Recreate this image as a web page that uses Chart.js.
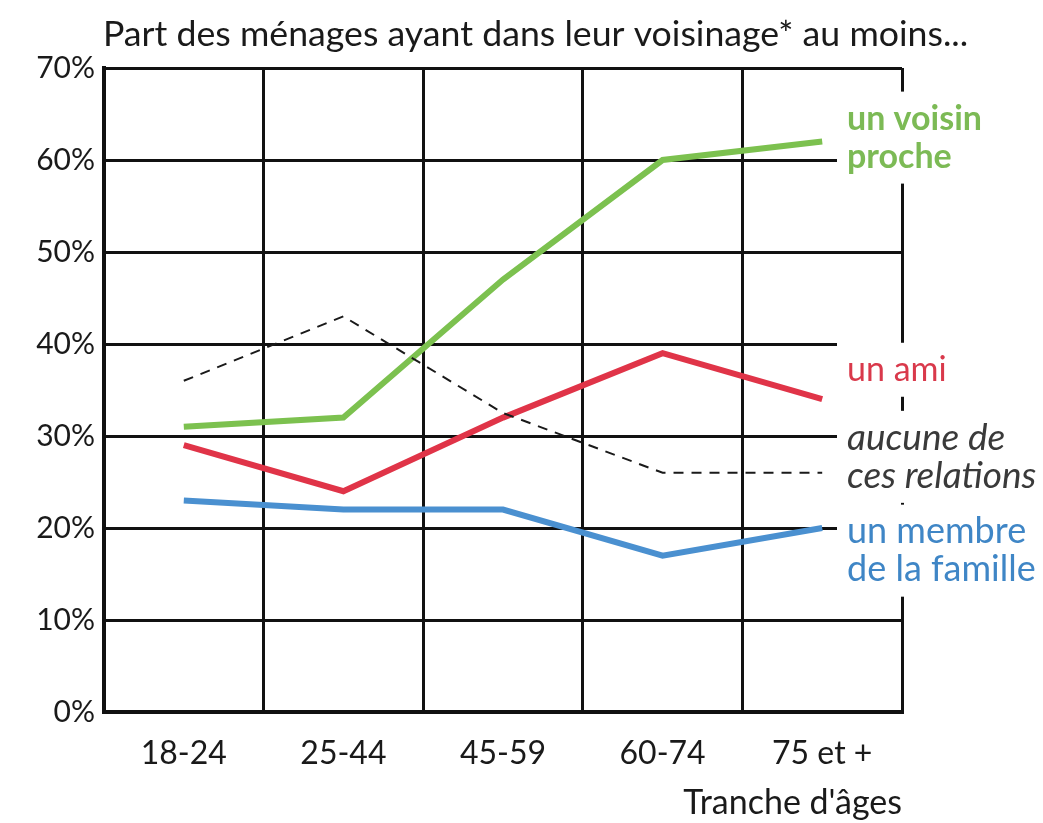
<!DOCTYPE html>
<html><head><meta charset="utf-8">
<script src="https://cdn.jsdelivr.net/npm/chart.js@4.4.1/dist/chart.umd.min.js"></script>
<style>html,body{margin:0;padding:0;background:#fff}#wrap{width:1043px;height:823px}</style>
</head><body><div id="wrap"><canvas id="c" width="1043" height="823"></canvas></div>
<script>
const categories = ['18-24', '25-44', '45-59', '60-74', '75 et +'];
const voisinProche = [31, 32, 47, 60, 62];
const ami = [29, 24, 32, 39, 34];
const aucune = [36, 43, 32.5, 26, 26];
const famille = [23, 22, 22, 17, 20];
const yTicks = [0, 10, 20, 30, 40, 50, 60, 70];
const titleText = "Part des ménages ayant dans leur voisinage* au moins...";
const xTitle = "Tranche d'âges";

const FONT = 'Lato, "Open Sans", sans-serif';

// end labels: text lines, value of first line, colour, style
const endLabels = [
  {lines: ['un voisin', 'proche'], at: 64.5, color: '#7cba55', weight: '700', style: 'normal', size: 34},
  {lines: ['un ami'], at: 37.2, color: '#d9394b', weight: '400', style: 'normal', size: 34},
  {lines: ['aucune de', 'ces relations'], at: 29.8, color: '#3a3a3a', weight: '400', style: 'italic', size: 37},
  {lines: ['un membre', 'de la famille'], at: 19.6, color: '#3f86c6', weight: '400', style: 'normal', size: 36}
];

const labelPlugin = {
  id: 'endLabels',
  afterDraw(chart) {
    const ctx = chart.ctx, ys = chart.scales.y, area = chart.chartArea;
    ctx.save();
    // title
    ctx.fillStyle = '#1a1a1a';
    ctx.font = '400 35.7px ' + FONT;
    ctx.textBaseline = 'middle';
    ctx.textAlign = 'left';
    ctx.fillText(titleText, 103, 34);
    const lh = 38;
    endLabels.forEach(l => {
      const y0 = ys.getPixelForValue(l.at);
      const top = y0 - lh / 2 - 8;
      const bottom = y0 + (l.lines.length - 1) * lh + lh / 2 + 8;
      ctx.fillStyle = '#ffffff';
      ctx.fillRect(area.right - 65, top, 1043 - (area.right - 65), bottom - top);
      ctx.fillStyle = l.color;
      ctx.font = l.style + ' ' + l.weight + ' ' + l.size + 'px ' + FONT;
      l.lines.forEach((t, i) => ctx.fillText(t, area.right - 55, y0 + i * lh));
    });
    ctx.restore();
  }
};

new Chart(document.getElementById('c'), {
  type: 'line',
  data: {
    labels: categories,
    datasets: [
      {label: 'aucune de ces relations', data: aucune, borderColor: '#1a1a1a', borderWidth: 2, borderDash: [10, 8], pointRadius: 0, tension: 0},
      {label: 'un membre de la famille', data: famille, borderColor: '#4a90d0', borderWidth: 6, pointRadius: 0, tension: 0},
      {label: 'un ami', data: ami, borderColor: '#e03448', borderWidth: 6, pointRadius: 0, tension: 0},
      {label: 'un voisin proche', data: voisinProche, borderColor: '#7cc14f', borderWidth: 6, pointRadius: 0, tension: 0}
    ]
  },
  options: {
    responsive: false,
    animation: false,
    layout: {padding: {top: 68, right: 141, bottom: 0, left: 0}},
    plugins: {legend: {display: false}, tooltip: {enabled: false}, title: {display: false}},
    scales: {
      x: {
        offset: true,
        grid: {offset: true, color: '#111', lineWidth: 3, drawTicks: false},
        border: {color: '#111', width: 4},
        ticks: {color: '#1a1a1a', font: {family: FONT, size: 32}, padding: 22, maxRotation: 0},
        title: {display: true, text: xTitle, align: 'end', color: '#1a1a1a', font: {family: FONT, size: 34}, padding: {top: 8, bottom: 0}},
        afterFit(s) { s.height = 111; }
      },
      y: {
        min: 0, max: 70,
        afterBuildTicks(s) { s.ticks = yTicks.map(v => ({value: v})); },
        grid: {color: '#111', lineWidth: 3, drawTicks: false},
        border: {color: '#111', width: 4},
        ticks: {color: '#1a1a1a', font: {family: FONT, size: 30}, padding: 9, callback: v => v + '%'},
        afterFit(s) { s.width = 104; }
      }
    }
  },
  plugins: [labelPlugin]
});
</script>
</body></html>
